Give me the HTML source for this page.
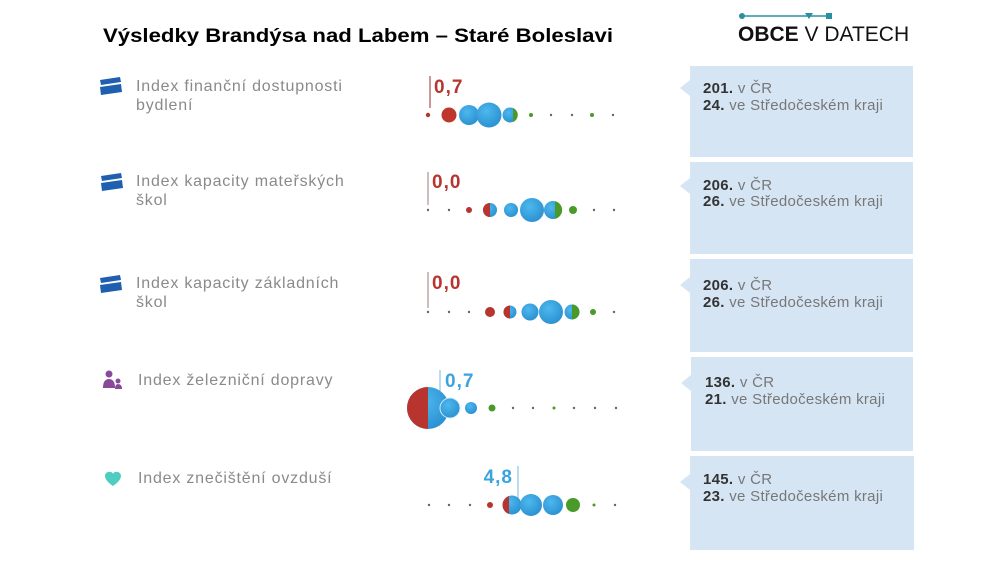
<!DOCTYPE html>
<html><head><meta charset="utf-8"><style>
body{margin:0;background:#fff;width:1000px;height:565px;overflow:hidden;}
svg{display:block;font-family:"Liberation Sans",sans-serif;}
</style></head><body>
<svg width="1000" height="565" viewBox="0 0 1000 565">
<defs>
<radialGradient id="b" cx="40%" cy="35%" r="70%"><stop offset="0" stop-color="#4db8ee"/><stop offset="1" stop-color="#2a8fd0"/></radialGradient>
</defs>
<text x="103" y="42" font-size="19" font-weight="bold" fill="#000" textLength="510" lengthAdjust="spacingAndGlyphs">Výsledky Brandýsa nad Labem – Staré Boleslavi</text>
<!-- logo -->
<line x1="742" y1="16" x2="829" y2="16" stroke="#2a8fa0" stroke-width="1.5"/>
<circle cx="742" cy="16" r="3" fill="#2a8fa0"/>
<path d="M805 13 L813 13 L809 19 Z" fill="#2a8fa0"/>
<rect x="826" y="13" width="6" height="6" fill="#2a8fa0"/>
<text x="738" y="41" font-size="21" fill="#111"><tspan font-weight="bold">OBCE</tspan> V DATECH</text>

<!-- labels -->
<g fill="#8a8a8a" font-size="16" letter-spacing="0.8">
<text x="136" y="91">Index finanční dostupnosti</text><text x="136" y="110">bydlení</text>
<text x="136" y="186">Index kapacity mateřských</text><text x="136" y="205">škol</text>
<text x="136" y="288">Index kapacity základních</text><text x="136" y="307">škol</text>
<text x="138" y="385">Index železniční dopravy</text>
<text x="138" y="483">Index znečištění ovzduší</text>
</g>
<g fill="#1f5fb0">
<path d="M100 80 L120 77 L121 82 L101 85Z"/><path d="M100 87 L121 84 L122 92 L101 95Z"/>
<path d="M101 176 L121 173 L122 178 L102 181Z"/><path d="M101 183 L122 180 L123 188 L102 191Z"/>
<path d="M100 278 L120 275 L121 280 L101 283Z"/><path d="M100 285 L121 282 L122 290 L101 293Z"/>
</g>
<g fill="#8a4a9a"><circle cx="109" cy="374" r="3.5"/><path d="M103 388 Q103 379 109 379 Q115 379 115 388Z"/><circle cx="118" cy="381" r="2.5"/><path d="M115 389 Q115 384 118 384 Q122 384 122 389Z"/></g>
<path d="M113 486 C104 480 103 474 108 472 C111 471 113 473 113 474 C113 473 115 471 118 472 C123 474 122 480 113 486Z" fill="#4ecdc0"/>

<!-- row 1 -->
<line x1="430" y1="76" x2="430" y2="108" stroke="#b05050" stroke-width="1.2"/>
<text x="434" y="93" font-size="19" font-weight="bold" fill="#b8342e" letter-spacing="1">0,7</text>
<circle cx="428" cy="115" r="2.2" fill="#b8342e"/>
<circle cx="449" cy="115" r="7.5" fill="#c0352c"/>
<circle cx="469" cy="115" r="10" fill="url(#b)"/>
<circle cx="489" cy="115" r="12.5" fill="url(#b)"/>
<circle cx="510" cy="115" r="7.5" fill="url(#b)"/><path d="M513 108 A7.5 7.5 0 0 1 513 122Z" fill="#4a9a2a"/>
<circle cx="531" cy="115" r="2" fill="#4a9a2a"/><circle cx="551" cy="115" r="1.2" fill="#666"/><circle cx="572" cy="115" r="1.2" fill="#666"/><circle cx="592" cy="115" r="2" fill="#4a9a2a"/><circle cx="613" cy="115" r="1.2" fill="#666"/>

<!-- row 2 -->
<line x1="428" y1="172" x2="428" y2="205" stroke="#b09090" stroke-width="1.2"/>
<text x="432" y="188" font-size="19" font-weight="bold" fill="#b8342e" letter-spacing="1">0,0</text>
<circle cx="428" cy="210" r="1.2" fill="#666"/><circle cx="449" cy="210" r="1.2" fill="#666"/>
<circle cx="469" cy="210" r="3" fill="#b8342e"/>
<circle cx="490" cy="210" r="7" fill="url(#b)"/><path d="M490 203 A7 7 0 0 0 490 217Z" fill="#b8342e"/>
<circle cx="511" cy="210" r="7" fill="url(#b)"/>
<circle cx="532" cy="210" r="12" fill="url(#b)"/>
<circle cx="553" cy="210" r="9" fill="url(#b)"/><path d="M555 201.2 A9 9 0 0 1 555 218.8Z" fill="#4a9a2a"/>
<circle cx="573" cy="210" r="4" fill="#4a9a2a"/>
<circle cx="594" cy="210" r="1.2" fill="#666"/><circle cx="614" cy="210" r="1.2" fill="#666"/>

<!-- row 3 -->
<line x1="428" y1="272" x2="428" y2="308" stroke="#b09090" stroke-width="1.2"/>
<text x="432" y="289" font-size="19" font-weight="bold" fill="#b8342e" letter-spacing="1">0,0</text>
<circle cx="428" cy="312" r="1.2" fill="#666"/><circle cx="449" cy="312" r="1.2" fill="#666"/><circle cx="469" cy="312" r="1.2" fill="#666"/>
<circle cx="490" cy="312" r="5" fill="#b8342e"/>
<circle cx="510" cy="312" r="6.5" fill="url(#b)"/><path d="M510 305.5 A6.5 6.5 0 0 0 510 318.5Z" fill="#b8342e"/>
<circle cx="530" cy="312" r="8.5" fill="url(#b)"/>
<circle cx="551" cy="312" r="12" fill="url(#b)"/>
<circle cx="572" cy="312" r="7.5" fill="url(#b)"/><path d="M572 304.5 A7.5 7.5 0 0 1 572 319.5Z" fill="#4a9a2a"/>
<circle cx="593" cy="312" r="3" fill="#4a9a2a"/>
<circle cx="614" cy="312" r="1.2" fill="#666"/>

<!-- row 4 -->
<line x1="440" y1="370" x2="440" y2="396" stroke="#8cc4e4" stroke-width="1.2"/>
<text x="445" y="387" font-size="19" font-weight="bold" fill="#3aa3e0" letter-spacing="1">0,7</text>
<circle cx="428" cy="408" r="21" fill="url(#b)"/><path d="M428 387 A21 21 0 0 0 428 429Z" fill="#b8342e"/>
<circle cx="450" cy="408" r="10" fill="url(#b)" stroke="#cfe8f7" stroke-width="1"/>
<circle cx="471" cy="408" r="6" fill="url(#b)"/>
<circle cx="492" cy="408" r="3.5" fill="#4a9a2a"/>
<circle cx="513" cy="408" r="1.2" fill="#666"/><circle cx="533" cy="408" r="1.2" fill="#666"/><circle cx="554" cy="408" r="1.5" fill="#4a9a2a"/><circle cx="574" cy="408" r="1.2" fill="#666"/><circle cx="595" cy="408" r="1.2" fill="#666"/><circle cx="616" cy="408" r="1.2" fill="#666"/>

<!-- row 5 -->
<line x1="518" y1="466" x2="518" y2="500" stroke="#8cc4e4" stroke-width="1.2"/>
<text x="513" y="483" font-size="19" font-weight="bold" fill="#3aa3e0" text-anchor="end" letter-spacing="1">4,8</text>
<circle cx="429" cy="505" r="1.2" fill="#666"/><circle cx="449" cy="505" r="1.2" fill="#666"/><circle cx="470" cy="505" r="1.2" fill="#666"/>
<circle cx="490" cy="505" r="3" fill="#b8342e"/>
<circle cx="512" cy="505" r="9.5" fill="url(#b)"/><path d="M509 496 A9.5 9.5 0 0 0 509 514Z" fill="#b8342e"/>
<circle cx="531" cy="505" r="11" fill="url(#b)"/>
<circle cx="553" cy="505" r="10" fill="url(#b)"/>
<circle cx="573" cy="505" r="7" fill="#4a9a2a"/>
<circle cx="594" cy="505" r="1.5" fill="#4a9a2a"/><circle cx="615" cy="505" r="1.2" fill="#666"/>

<!-- boxes -->
<g fill="#d6e5f4">
<rect x="690" y="66" width="223" height="91"/><path d="M690 80 L680 88 L690 96Z"/>
<rect x="690" y="162" width="223" height="92"/><path d="M690 178 L680 186 L690 194Z"/>
<rect x="690" y="259" width="223" height="93"/><path d="M690 277 L680 285 L690 293Z"/>
<rect x="691" y="357" width="222" height="94"/><path d="M691 375 L681 383 L691 391Z"/>
<rect x="690" y="456" width="224" height="94"/><path d="M690 474 L680 482 L690 490Z"/>
</g>
<g font-size="15" fill="#777" letter-spacing="0.3">
<text x="703" y="93"><tspan font-weight="bold" fill="#333">201.</tspan> v ČR</text><text x="703" y="110"><tspan font-weight="bold" fill="#333">24.</tspan> ve Středočeském kraji</text>
<text x="703" y="190"><tspan font-weight="bold" fill="#333">206.</tspan> v ČR</text><text x="703" y="206"><tspan font-weight="bold" fill="#333">26.</tspan> ve Středočeském kraji</text>
<text x="703" y="290"><tspan font-weight="bold" fill="#333">206.</tspan> v ČR</text><text x="703" y="307"><tspan font-weight="bold" fill="#333">26.</tspan> ve Středočeském kraji</text>
<text x="705" y="387"><tspan font-weight="bold" fill="#333">136.</tspan> v ČR</text><text x="705" y="404"><tspan font-weight="bold" fill="#333">21.</tspan> ve Středočeském kraji</text>
<text x="703" y="484"><tspan font-weight="bold" fill="#333">145.</tspan> v ČR</text><text x="703" y="501"><tspan font-weight="bold" fill="#333">23.</tspan> ve Středočeském kraji</text>
</g>
</svg>
</body></html>
